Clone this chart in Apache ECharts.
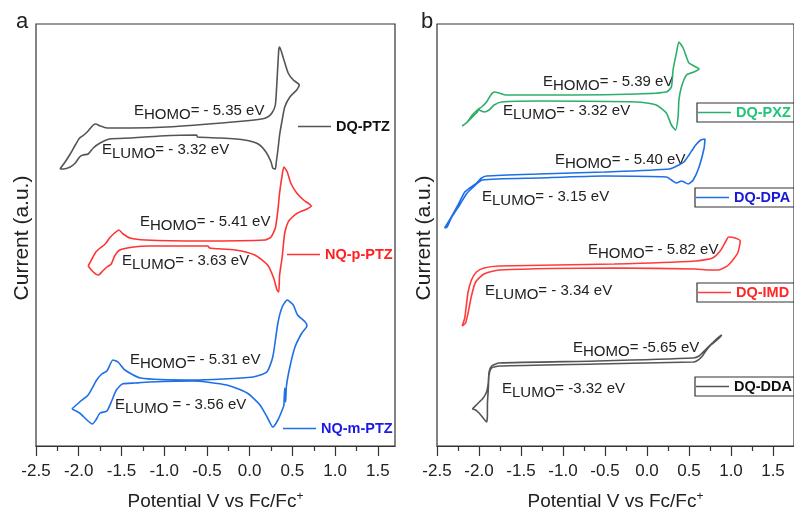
<!DOCTYPE html>
<html>
<head>
<meta charset="utf-8">
<script src="https://cdn.jsdelivr.net/npm/echarts@6/dist/echarts.min.js"></script>
<style>
  html, body { margin: 0; padding: 0; background: #fff; }
  #chart { width: 794px; height: 521px; }
</style>
</head>
<body>
<div id="chart"></div>
<script>
// Potential axis ticks (V vs Fc/Fc+)
const majorTicks = [-2.5, -2.0, -1.5, -1.0, -0.5, 0.0, 0.5, 1.0, 1.5];
const minorTicks = [-2.25, -1.75, -1.25, -0.75, -0.25, 0.25, 0.75, 1.25];

// Panel a: cyclic voltammograms (potential in V, current in a.u., curves offset vertically)
const dqPtzV = [-2.22,-2.16,-2.10,-2.04,-1.99,-1.94,-1.89,-1.83,-1.80,-1.75,-1.67,-1.40,-0.97,-0.20,0.14,0.21,0.26,0.30,0.32,0.34,0.35,0.39,0.45,0.51,0.58,0.55,0.47,0.41,0.38,0.35,0.33,0.31,0.30,0.27,0.25,0.19,0.10,-0.06,-0.35,-0.61,-0.62,-1.05,-1.40,-1.64,-1.75,-1.83,-1.89,-1.95,-1.99,-2.04,-2.10,-2.18,-2.22];
const dqPtzI = [277,284,292,301,308,311,315,321,322,320,318,318,319,324,327,329,333,341,366,396,399,389,373,366,361,356,349,339,326,311,296,283,277,278,284,294,302,306,308,309,311,310,308,307,303,298,292,291,289,283,279,277,277];

const nqpPtzV = [-1.89,-1.84,-1.80,-1.75,-1.69,-1.64,-1.58,-1.53,-1.48,-1.40,-1.22,-0.58,0.18,0.25,0.30,0.33,0.35,0.38,0.40,0.44,0.48,0.55,0.63,0.72,0.67,0.56,0.50,0.45,0.41,0.38,0.35,0.34,0.32,0.28,0.21,0.06,-0.17,-0.47,-0.49,-1.17,-1.36,-1.52,-1.58,-1.62,-1.67,-1.72,-1.77,-1.83,-1.89];
const nqpPtzI = [180,188,194,198,202,208,213,216,212,208,206,205,206,209,218,236,253,271,279,274,263,253,246,240,237,233,229,224,213,189,171,154,156,168,181,191,196,198,200,200,199,196,190,182,179,175,171,174,180];

const nqmPtzV = [-2.08,-1.99,-1.89,-1.79,-1.73,-1.67,-1.60,-1.54,-1.46,-1.28,-0.66,0.04,0.20,0.27,0.33,0.38,0.44,0.51,0.56,0.65,0.67,0.61,0.53,0.47,0.43,0.42,0.41,0.40,0.39,0.33,0.27,0.21,0.12,-0.03,-0.27,-0.66,-1.17,-1.34,-1.49,-1.56,-1.61,-1.67,-1.75,-1.80,-1.84,-1.99,-2.08];
const nqmPtzI = [37,44,51,66,72,75,86,84,76,68,66,69,74,89,123,139,146,141,131,124,120,113,99,79,60,44,58,41,38,26,19,28,41,53,61,65,64,63,62,56,46,35,33,26,22,33,37];

// Panel b
const dqPxzV = [-2.20,-2.14,-2.08,-2.02,-1.97,-1.91,-1.86,-1.82,-1.76,-1.68,-0.91,-0.12,0.23,0.29,0.31,0.35,0.38,0.43,0.47,0.50,0.56,0.62,0.56,0.47,0.41,0.38,0.37,0.34,0.29,0.23,0.11,-0.12,-1.29,-1.73,-1.82,-1.88,-1.94,-2.00,-2.03,-2.09,-2.15,-2.20];
const dqPxzI = [320,324,331,336,339,344,351,354,353,351,351,352,354,359,376,393,404,398,389,383,380,377,374,371,359,346,329,316,321,333,341,344,345,344,341,336,334,336,333,328,323,320];

const dqDpaV = [-2.41,-2.35,-2.25,-2.17,-2.11,-2.03,-1.97,-1.91,-1.29,-0.51,0.27,0.38,0.44,0.50,0.58,0.64,0.69,0.68,0.62,0.55,0.49,0.44,0.41,0.35,0.29,0.23,-0.51,-1.29,-1.96,-2.08,-2.15,-2.23,-2.33,-2.38,-2.41];
const dqDpaI = [218,226,241,254,258,263,268,270,272,274,277,281,284,291,301,306,307,298,279,266,262,264,265,263,266,269,270,268,266,258,252,241,228,219,218];

const dqImdV = [-2.20,-2.17,-2.15,-2.13,-2.09,-2.03,-1.94,-1.76,-0.39,0.58,0.78,0.88,0.94,0.97,1.05,1.11,1.08,0.97,0.85,0.74,0.58,-0.39,-1.76,-1.94,-2.04,-2.09,-2.13,-2.16,-2.20];
const dqImdI = [120,128,141,154,166,174,178,180,182,185,188,196,205,209,208,205,193,181,176,176,177,178,176,172,164,150,133,123,120];

const dqDdaV = [-2.08,-2.02,-1.95,-1.91,-1.89,-1.88,-1.85,-1.76,-0.59,0.55,0.62,0.68,0.74,0.79,0.84,0.89,0.86,0.82,0.76,0.70,0.65,0.59,0.55,-0.59,-1.76,-1.85,-1.88,-1.89,-1.90,-1.90,-1.91,-1.95,-2.00,-2.04,-2.08];
const dqDdaI = [37,42,48,54,63,74,80,83,85,88,90,95,100,104,108,111,108,105,101,95,89,85,84,82,80,78,71,56,41,31,24,28,33,36,37];

// Frontier orbital energy annotations
const levelsA = [
  ['HOMO', '= - 5.35 eV'], ['LUMO', '= - 3.32 eV'],
  ['HOMO', '= - 5.41 eV'], ['LUMO', '= - 3.63 eV'],
  ['HOMO', '= - 5.31 eV'], ['LUMO', ' = - 3.56 eV']
];
const levelsB = [
  ['HOMO', '= - 5.39 eV'], ['LUMO', '= - 3.32 eV'],
  ['HOMO', '= - 5.40 eV'], ['LUMO', '= - 3.15 eV'],
  ['HOMO', '= - 5.82 eV'], ['LUMO', '= - 3.34 eV'],
  ['HOMO', '= -5.65 eV'], ['LUMO', '= -3.32 eV']
];

const FONT = "'Liberation Sans', Arial, Helvetica, sans-serif";
const AXIS = '#333';
const TXT = '#222';

const pairs = (v, i) => v.map((x, k) => [x, i[k]]);

function cvSeries(name, xi, v, i, color) {
  return {
    name, type: 'line', xAxisIndex: xi, yAxisIndex: xi,
    data: pairs(v, i), symbol: 'none', smooth: 0.2,
    lineStyle: { color, width: 1.6 }, itemStyle: { color },
    silent: true, animation: false
  };
}

function xAxes(gridIndex, max) {
  return [
    {
      gridIndex, type: 'value', min: -2.5, max, position: 'bottom',
      axisLine: { show: true, onZero: false, lineStyle: { color: AXIS, width: 1.2 } },
      axisTick: { show: true, customValues: majorTicks, length: 10, lineStyle: { color: AXIS, width: 1.2 } },
      axisLabel: { customValues: majorTicks, formatter: v => v.toFixed(1), fontSize: 17, fontFamily: FONT, color: TXT, margin: 17 },
      splitLine: { show: false },
      name: '{n|Potential V vs Fc/Fc}{p|+}', nameLocation: 'middle', nameGap: 45,
      nameTextStyle: { rich: {
        n: { fontSize: 19, fontFamily: FONT, color: TXT },
        p: { fontSize: 12, fontFamily: FONT, color: TXT, padding: [0, 0, 10, 0] }
      } }
    },
    {
      gridIndex, type: 'value', min: -2.5, max, position: 'bottom',
      axisLine: { show: false, onZero: false },
      axisTick: { show: true, customValues: minorTicks, length: 5, lineStyle: { color: AXIS, width: 1.2 } },
      axisLabel: { show: false }, splitLine: { show: false }
    }
  ];
}

function yAxis(gridIndex) {
  return { gridIndex, type: 'value', min: 0, max: 422, show: false };
}

function legend(name, left, top, color, boxed) {
  return {
    data: [name], left, top, selectedMode: false, orient: 'horizontal',
    icon: 'rect', itemWidth: 33, itemHeight: 1.6, itemGap: 0,
    padding: boxed ? [2, 20, 2, 1] : 0,
    borderColor: boxed ? '#333' : 'transparent', borderWidth: boxed ? 1.2 : 0,
    textStyle: { fontSize: 14.5, fontWeight: 'bold', fontFamily: FONT, color }
  };
}

function level(entry, x, y) {
  return {
    type: 'text', x, y, silent: true,
    style: {
      text: '{e|E}{s|' + entry[0] + '}{e|' + entry[1] + '}',
      verticalAlign: 'middle', align: 'left',
      rich: {
        e: { fontSize: 15, fontFamily: FONT, fill: TXT, lineHeight: 18 },
        s: { fontSize: 15, fontFamily: FONT, fill: TXT, lineHeight: 18, padding: [8, 0, 0, 0] }
      }
    }
  };
}

function plainText(text, x, y, size, rotation) {
  return {
    type: 'text', x, y, rotation: rotation || 0, silent: true,
    style: { text, fontSize: size, fontFamily: FONT, fill: TXT, align: 'center', verticalAlign: 'middle' }
  };
}

const chart = echarts.init(document.getElementById('chart'), null, { renderer: 'canvas' });

const xa = xAxes(0, 1.7);
const xb = xAxes(1, 1.75);

chart.setOption({
  animation: false,
  backgroundColor: '#fff',
  grid: [
    { left: 36, top: 24, width: 359, height: 422, show: true, borderColor: AXIS, borderWidth: 1.2, backgroundColor: 'transparent' },
    { left: 437, top: 24, width: 363, height: 422, show: true, borderColor: AXIS, borderWidth: 1.2, backgroundColor: 'transparent' }
  ],
  xAxis: [...xa, ...xb],
  yAxis: [yAxis(0), yAxis(0), yAxis(1), yAxis(1)],
  legend: [
    legend('DQ-PTZ', 298, 119, '#111', false),
    legend('NQ-p-PTZ', 287, 247, '#ff2020', false),
    legend('NQ-m-PTZ', 283, 421, '#1a1ae6', false),
    legend('DQ-PXZ', 697, 103, '#22c47a', true),
    legend('DQ-DPA', 695, 188, '#1a1ad6', true),
    legend('DQ-IMD', 697, 283, '#ff2626', true),
    legend('DQ-DDA', 695, 377, '#111', true)
  ],
  series: [
    cvSeries('DQ-PTZ', 0, dqPtzV, dqPtzI, '#555555'),
    cvSeries('NQ-p-PTZ', 0, nqpPtzV, nqpPtzI, '#ff3333'),
    cvSeries('NQ-m-PTZ', 0, nqmPtzV, nqmPtzI, '#1f6fe6'),
    cvSeries('DQ-PXZ', 2, dqPxzV, dqPxzI, '#2eae6a'),
    cvSeries('DQ-DPA', 2, dqDpaV, dqDpaI, '#1f6fe6'),
    cvSeries('DQ-IMD', 2, dqImdV, dqImdI, '#ff3b3b'),
    cvSeries('DQ-DDA', 2, dqDdaV, dqDdaI, '#555555')
  ],
  graphic: [
    plainText('a', 22, 22, 22),
    plainText('b', 427, 22, 22),
    plainText('Current (a.u.)', 22, 238, 21, Math.PI / 2),
    plainText('Current (a.u.)', 424, 238, 21, Math.PI / 2),
    level(levelsA[0], 134, 111), level(levelsA[1], 102, 150),
    level(levelsA[2], 140, 222), level(levelsA[3], 122, 261),
    level(levelsA[4], 130, 360), level(levelsA[5], 115, 405),
    level(levelsB[0], 543, 82), level(levelsB[1], 503, 111),
    level(levelsB[2], 555, 160), level(levelsB[3], 482, 197),
    level(levelsB[4], 588, 250), level(levelsB[5], 485, 291),
    level(levelsB[6], 573, 348), level(levelsB[7], 502, 389)
  ]
});
</script>
</body>
</html>
